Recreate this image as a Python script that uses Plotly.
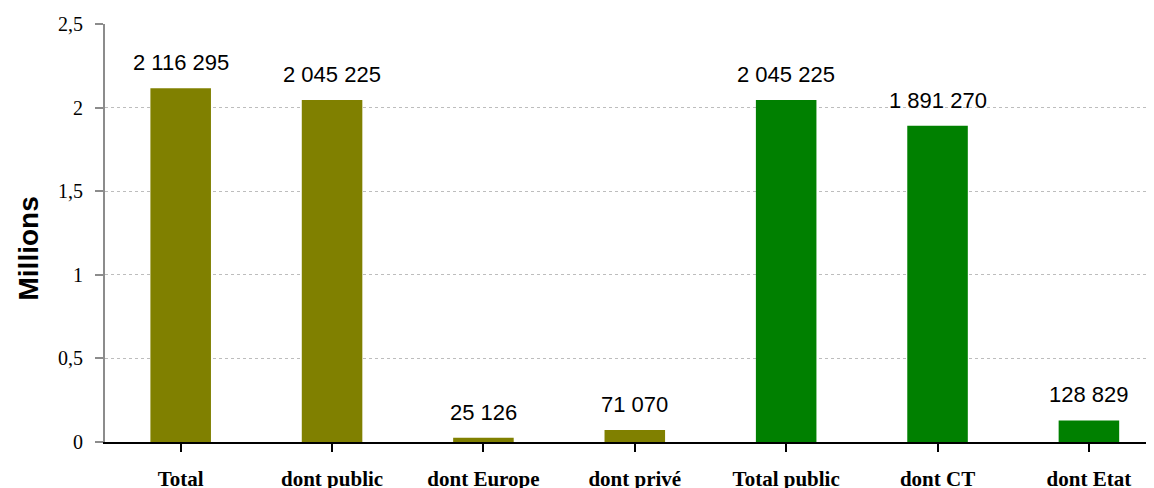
import plotly.graph_objects as go

categories = ["Total", "dont public", "dont Europe", "dont privé", "Total public", "dont CT", "dont Etat"]
values = [2116295, 2045225, 25126, 71070, 2045225, 1891270, 128829]
colors = ["#808000", "#808000", "#808000", "#808000", "#008000", "#008000", "#008000"]
tick_vals = [0, 0.5, 1, 1.5, 2, 2.5]
tick_text = ["0", "0,5", "1", "1,5", "2", "2,5"]

labels = ["{:,}".format(v).replace(",", " ") for v in values]
ys = [v / 1e6 for v in values]

fig = go.Figure(go.Bar(
    x=list(range(len(categories))), y=ys, marker=dict(color=colors, line=dict(width=0)),
    width=0.4, hoverinfo="skip",
))

for i, (y, t) in enumerate(zip(ys, labels)):
    fig.add_annotation(x=i, y=y, text=t, showarrow=False, yanchor="bottom", yshift=11,
                       font=dict(family="Liberation Sans, Arial", size=22, color="#000000"))

fig.add_annotation(xref="paper", yref="paper", x=0, y=0.5, xshift=-95, yshift=-16,
                   text="<b>Millions</b>", textangle=-90, showarrow=False,
                   font=dict(family="Liberation Sans, Arial", size=28, color="#000000"))

# page body has an 8px margin: figure is sized/offset to compensate
fig.update_layout(
    width=1146, height=488,
    margin=dict(l=97, r=0, t=16, b=54),
    plot_bgcolor="white", paper_bgcolor="white",
    showlegend=False,
    xaxis=dict(
        range=[-0.5, 6.43], automargin=False,
        tickvals=list(range(len(categories))), ticktext=categories,
        showline=True, linecolor="#000000", linewidth=2,
        ticks="outside", tickson="boundaries", ticklen=8, tickcolor="#000000", tickwidth=2,
        ticklabelstandoff=9,
        tickfont=dict(family="Liberation Serif, Times New Roman", size=21, color="#000000", weight="bold"),
        showgrid=False, zeroline=False,
    ),
    yaxis=dict(
        range=[0, 2.5], automargin=False, tickvals=tick_vals, ticktext=tick_text,
        showline=True, linecolor="#8c8c8c", linewidth=2,
        ticks="outside", ticklen=8, tickcolor="#8c8c8c", tickwidth=1.5,
        ticklabelstandoff=8,
        tickfont=dict(family="Liberation Serif, Times New Roman", size=20, color="#000000"),
        showgrid=True, gridcolor="#bdbdbd", griddash="dot", gridwidth=1,
        zeroline=False,
    ),
)
fig.write_html("out.html")
